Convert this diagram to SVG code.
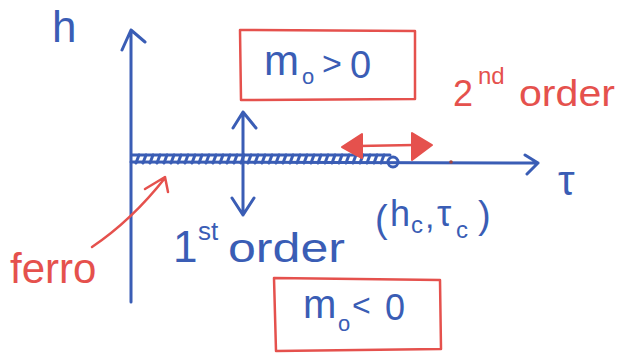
<svg xmlns="http://www.w3.org/2000/svg" width="629" height="354" viewBox="0 0 629 354">
<style>
.b{stroke:#3a5db5;fill:none;stroke-width:3;stroke-linecap:round;stroke-linejoin:round}
.r{stroke:#e5514d;fill:none;stroke-width:2.5;stroke-linecap:round;stroke-linejoin:round}
.tb{fill:#3a5db5;font-family:"Liberation Sans",Arial,sans-serif}
.tr{fill:#e5514d;font-family:"Liberation Sans",Arial,sans-serif}
</style>
<rect width="629" height="354" fill="#fff"/>
<g id="connectors">
  <path class="b" d="M131 30 L131 302 M122 50 L131 30 L145 42"/>
  <path class="b" d="M131 162 L538 163 M525 155 L538 163 L527 174"/>
  <g id="hatch">
    <path class="b" d="M132 155 L390 155"/>
    <path class="b" stroke-width="2" d="M136 163 L139 155 M143 163 L146 155 M150 163 L153 155 M157 163 L160 155 M164 163 L167 155 M171 163 L174 155 M178 163 L181 155 M185 163 L188 155 M192 163 L195 155 M199 163 L202 155 M206 163 L209 155 M213 163 L216 155 M220 163 L223 155 M227 163 L230 155 M234 163 L237 155 M241 163 L244 155 M248 163 L251 155 M255 163 L258 155 M262 163 L265 155 M269 163 L272 155 M276 163 L279 155 M283 163 L286 155 M290 163 L293 155 M297 163 L300 155 M304 163 L307 155 M311 163 L314 155 M318 163 L321 155 M325 163 L328 155 M332 163 L335 155 M339 163 L342 155 M346 163 L349 155 M353 163 L356 155 M360 163 L363 155 M367 163 L370 155 M374 163 L377 155 M381 163 L384 155"/>
    <circle class="b" cx="393" cy="162" r="5"/>
  </g>
  <path class="b" d="M243 112 L243 215 M233 128 L243 112 L256 128 M232 198 L243 215 L254 198"/>
  <g id="red-double-arrow">
    <path class="r" d="M358 146 L414 145"/>
    <polygon points="342,147 362,134 362,158" fill="#e5514d" stroke="#e5514d" stroke-width="2" stroke-linejoin="round"/>
    <polygon points="432,145 412,133 412,160" fill="#e5514d" stroke="#e5514d" stroke-width="2" stroke-linejoin="round"/>
  </g>
  <circle cx="451" cy="162" r="1.8" fill="#a0443f"/>
  <path class="r" d="M92 247 Q132 220 165 178 M145 189 L165 177 L168 192"/>
</g>
<g id="axis-h"><text class="tb" x="52" y="42" font-size="44">h</text></g>
<g id="axis-tau"><text class="tb" x="558" y="195" font-size="42">τ</text></g>
<g id="box-pos">
  <path class="r" d="M240 30 L415 31 L415 99 L241 100 Z"/>
  <text class="tb" x="264" y="75" font-size="42">m</text>
  <text class="tb" x="302" y="84" font-size="22">o</text>
  <text class="tb" x="322" y="75" font-size="34">&gt;</text>
  <text class="tb" x="350" y="78" font-size="38">0</text>
</g>
<g id="box-neg">
  <path class="r" d="M274 278 L440 280 L441 349 L276 351 Z"/>
  <text class="tb" x="303" y="318" font-size="40">m</text>
  <text class="tb" x="338" y="331" font-size="22">o</text>
  <text class="tb" x="352" y="316" font-size="32">&lt;</text>
  <text class="tb" x="385" y="320" font-size="36">0</text>
</g>
<g id="label-2nd">
  <text class="tr" x="453" y="106" font-size="36">2</text>
  <text class="tr" x="478" y="84" font-size="24">nd</text>
  <text class="tr" x="519" y="106" font-size="37" textLength="96" lengthAdjust="spacingAndGlyphs">order</text>
</g>
<g id="label-1st">
  <text class="tb" x="173" y="262" font-size="44">1</text>
  <text class="tb" x="198" y="240" font-size="26">st</text>
  <text class="tb" x="228" y="262" font-size="40" textLength="117" lengthAdjust="spacingAndGlyphs">order</text>
</g>
<g id="label-critical">
  <text class="tb" x="375" y="232" font-size="38">(</text>
  <text class="tb" x="390" y="226" font-size="36">h</text>
  <text class="tb" x="411" y="233" font-size="24">c</text>
  <text class="tb" x="425" y="228" font-size="34">,</text>
  <text class="tb" x="437" y="226" font-size="36">τ</text>
  <text class="tb" x="456" y="238" font-size="24">c</text>
  <text class="tb" x="478" y="228" font-size="38">)</text>
</g>
<g id="label-ferro">
  <text class="tr" x="10" y="283" font-size="42">ferro</text>
</g>
</svg>
